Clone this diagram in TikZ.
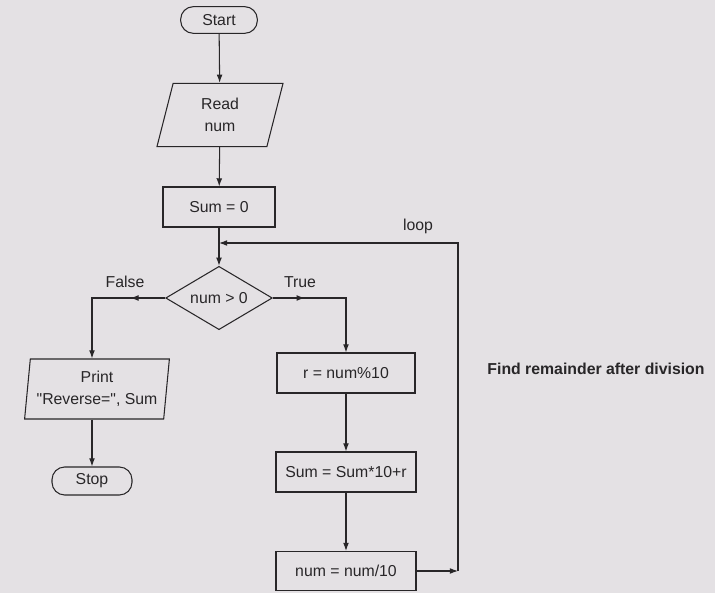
\documentclass[tikz,border=0pt]{standalone}
\usepackage{fontspec}
\newfontfamily\chartfont{Liberation Sans}
\usetikzlibrary{shapes.geometric,arrows.meta,decorations.markings}
\definecolor{paper}{RGB}{228,225,228}
\definecolor{ink}{RGB}{40,38,40}
\tikzset{
  termbox/.style = {draw=ink, rounded corners=0.38cm, minimum width=2.3cm, minimum height=0.8cm, inner sep=1pt},
  procbox/.style = {draw=ink, rectangle, minimum height=1.2cm, inner sep=2pt},
  iobox/.style = {draw=ink, trapezium, trapezium stretches=true, trapezium left angle=#1, trapezium right angle=180-#1, align=center, inner sep=1pt},
  decbox/.style = {draw=ink, diamond, aspect=1.7, minimum width=3.2cm, minimum height=1.9cm, inner sep=0pt},
  arrowat/.style = {postaction={decorate}, decoration={markings, mark=at position #1 with {\arrow{Latex[length=7pt,width=5pt]}}}}
}
\begin{document}
\begin{tikzpicture}[x=0.03cm, y=-0.03cm, line width=0.9pt, draw=ink, >={Latex[length=7pt,width=5pt]}, font=\chartfont\fontsize{13.5}{18.5}\selectfont, text=ink]
			\fill[paper] (0,0) rectangle (715,593);
			\useasboundingbox (0,0) rectangle (715,593);
			% left column
			\node[termbox] (start) at (219,20) {Start};
			\node[iobox=79, minimum width=3.8cm, minimum height=1.9cm] (read) at (220,115) {Read\\num};
			\node[procbox, minimum width=3.36cm] (sum0) at (219,207) {Sum = 0};
			\node[decbox] (cond) at (219,298) {num > 0};
			\node[iobox=82, minimum width=4.35cm, minimum height=1.8cm] (print) at (97,389) {Print\\"Reverse=", Sum};
			\node[termbox, minimum width=2.4cm, minimum height=0.84cm] (stop) at (92,481) {Stop};
			% right column
			\node[procbox, minimum width=4.14cm] (rem) at (346,373) {r = num\%10};
			\node[procbox, minimum width=4.2cm] (upd) at (346,472) {Sum = Sum*10+r};
			\node[procbox, minimum width=4.2cm, minimum height=1.17cm] (div) at (346,571) {num = num/10};
			\coordinate (merge) at (219,243);
			\coordinate (back) at (458,571);
			% labels
			\node (lfalse) at (125,282) {False};
			\node (ltrue) at (300,282) {True};
			\node (lloop) at (418,226) {loop};
			\node[font=\chartfont\fontsize{13.5}{15.5}\selectfont\bfseries] (lnote) at (596,369) {Find remainder after division};
			% connectors
			\foreach \a/\b in {start/read, read/sum0, sum0/cond, rem/upd, upd/div}
			{\draw[->] (\a) -- (\b);}
			\draw[->, arrowat=0.26] (cond.west) -| (print.north -| stop.north);
			\draw[->] (print.south -| stop.north) -- (stop.north);
			\draw[->, arrowat=0.25] (cond.east) -| (rem.north);
			\draw[->] (div.east) -- (back);
			\draw[->] (back) |- (merge);
		\end{tikzpicture}
\end{document}
